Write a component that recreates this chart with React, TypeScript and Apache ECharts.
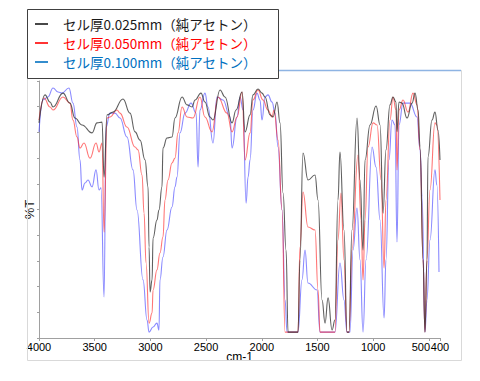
import React, { useEffect, useRef } from "react";
import * as echarts from "echarts";

// Legend / series names
const seriesNames = [
  "セル厚0.025mm（純アセトン）",
  "セル厚0.050mm（純アセトン）",
  "セル厚0.100mm（純アセトン）",
];
const legendColors = ["#1a1a1a", "#ff0000", "#0070c0"];
const lineColors = ["rgba(55,55,55,0.8)", "rgba(255,45,45,0.65)", "rgba(60,60,255,0.6)"];

// x-axis tick labels (wavenumber, cm-1)
const xTicks = [4000, 3500, 3000, 2500, 2000, 1500, 1000, 500, 400];

// [wavenumber (cm-1), %T]
const black025: [number, number][] = [
  [4000, 83.7], [3946, 94.6], [3901, 91.8], [3874, 89.9], [3785, 95.3], [3722, 91.4], [3677, 85.6],
  [3614, 82.9], [3524, 79.8], [3479, 83.7], [3434, 84.0], [3416, 62.6], [3389, 86.8], [3336, 87.9],
  [3246, 93.0], [3183, 87.5], [3138, 80.2], [3093, 77.0], [3048, 69.3], [3021, 58.8], [3012, 35.4],
  [3003, 17.9], [2985, 22.6], [2976, 38.9], [2941, 45.9], [2923, 49.8], [2896, 58.8], [2887, 73.9],
  [2851, 77.8], [2806, 78.2], [2779, 85.6], [2716, 93.8], [2671, 90.7], [2626, 89.9], [2599, 92.6],
  [2546, 95.3], [2510, 91.8], [2465, 86.0], [2438, 84.8], [2375, 96.5], [2330, 93.8], [2267, 83.7],
  [2231, 88.7], [2177, 95.7], [2150, 80.2], [2105, 86.8], [2079, 94.6], [2034, 96.9], [1998, 95.3],
  [1971, 93.8], [1926, 86.8], [1899, 86.0], [1863, 91.8], [1836, 83.7], [1809, 56.4], [1782, 34.2],
  [1764, 2.3], [1675, 2.3], [1657, 30.4], [1630, 72.0], [1585, 61.5], [1522, 63.4], [1495, 53.7],
  [1459, 14.8], [1432, 5.8], [1405, 15.6], [1369, 3.1], [1343, 7.0], [1316, 53.7], [1298, 72.4],
  [1262, 42.0], [1235, 2.3], [1217, 2.3], [1190, 42.0], [1145, 85.6], [1118, 61.5], [1091, 34.2],
  [1073, 69.3], [1028, 82.9], [974, 90.3], [938, 82.9], [911, 48.6], [885, 73.2], [849, 90.7],
  [822, 93.8], [795, 91.8], [786, 80.2], [768, 91.8], [741, 91.4], [696, 85.6], [651, 91.4],
  [624, 95.3], [597, 88.7], [579, 74.3], [552, 30.4], [535, 2.3], [517, 30.4], [508, 70.4],
  [472, 84.8], [445, 87.9], [418, 80.9], [400, 69.3],
];

const red050: [number, number][] = [
  [4000, 84.8], [3955, 93.4], [3901, 89.9], [3874, 88.7], [3785, 93.8], [3722, 91.4], [3695, 84.8],
  [3659, 78.2], [3632, 73.9], [3596, 75.9], [3542, 70.0], [3488, 75.9], [3461, 72.4], [3434, 75.9],
  [3416, 41.2], [3389, 85.6], [3363, 86.0], [3300, 88.7], [3273, 87.5], [3210, 82.1], [3138, 74.3],
  [3111, 73.2], [3075, 63.4], [3057, 48.6], [3039, 29.2], [3012, 5.8], [2985, 9.7], [2976, 18.7],
  [2941, 26.5], [2914, 33.1], [2887, 39.3], [2869, 53.7], [2842, 61.5], [2806, 68.1], [2779, 70.0],
  [2752, 79.8], [2716, 89.9], [2671, 86.0], [2617, 85.6], [2555, 93.8], [2510, 86.0], [2447, 80.2],
  [2393, 93.8], [2312, 87.5], [2267, 80.2], [2222, 86.0], [2177, 95.7], [2150, 69.3], [2105, 79.8],
  [2079, 92.6], [2034, 96.5], [1989, 92.6], [1944, 88.7], [1908, 86.0], [1890, 88.7], [1854, 77.0],
  [1818, 49.8], [1791, 2.3], [1675, 2.3], [1657, 35.4], [1630, 56.8], [1585, 43.2], [1522, 42.0],
  [1495, 18.7], [1477, 2.3], [1343, 2.3], [1316, 38.1], [1289, 56.4], [1262, 30.4], [1235, 2.3],
  [1217, 2.3], [1190, 34.2], [1136, 71.2], [1109, 45.9], [1091, 22.6], [1073, 45.9], [1046, 74.3],
  [1001, 83.7], [965, 82.9], [929, 61.5], [902, 27.2], [885, 53.7], [849, 84.8], [822, 93.8],
  [795, 88.7], [786, 65.4], [768, 88.7], [732, 92.6], [687, 87.9], [642, 95.3], [606, 90.7],
  [579, 73.2], [552, 30.4], [535, 2.3], [517, 30.4], [490, 57.6], [445, 83.7], [428, 82.9], [400, 53.7],
];

const blue100: [number, number][] = [
  [4000, 80.2], [3964, 92.6], [3919, 93.8], [3874, 97.3], [3829, 95.7], [3794, 95.3], [3731, 97.3],
  [3695, 91.4], [3659, 82.1], [3632, 69.3], [3614, 57.6], [3587, 60.3], [3560, 61.5], [3524, 58.8],
  [3488, 65.4], [3461, 57.6], [3443, 58.4], [3416, 16.0], [3398, 82.1], [3363, 87.5], [3318, 87.5],
  [3273, 85.6], [3210, 78.2], [3156, 65.4], [3120, 49.8], [3066, 22.6], [3030, 7.0], [3012, 2.3],
  [2976, 4.3], [2941, 5.8], [2923, 3.1], [2914, 22.6], [2887, 31.5], [2851, 42.0], [2806, 51.0],
  [2779, 58.8], [2761, 62.6], [2734, 79.8], [2689, 87.5], [2635, 91.4], [2590, 87.5], [2572, 66.5],
  [2555, 88.7], [2510, 95.3], [2483, 89.9], [2438, 75.9], [2402, 93.8], [2348, 92.6], [2285, 86.0],
  [2267, 73.9], [2222, 86.0], [2195, 93.8], [2168, 88.7], [2141, 52.5], [2123, 62.6], [2105, 69.3],
  [2079, 88.7], [2043, 95.3], [2016, 92.6], [1998, 84.8], [1971, 93.8], [1944, 94.6], [1908, 91.8],
  [1881, 87.5], [1854, 74.3], [1818, 49.8], [1791, 14.8], [1773, 2.3], [1675, 2.3], [1639, 22.6],
  [1612, 34.2], [1585, 21.4], [1504, 18.7], [1477, 2.3], [1343, 2.3], [1298, 29.2], [1262, 14.8],
  [1235, 2.3], [1208, 2.3], [1181, 34.2], [1145, 50.6], [1118, 30.4], [1091, 2.3], [1064, 30.4],
  [1010, 74.3], [974, 66.5], [938, 45.9], [902, 7.8], [885, 30.4], [858, 69.3], [831, 84.8],
  [804, 82.9], [786, 37.4], [768, 82.9], [732, 91.4], [669, 91.4], [606, 86.0], [579, 73.2],
  [561, 54.9], [535, 2.3], [517, 14.8], [490, 38.1], [445, 65.4], [428, 59.5], [409, 25.7],
];

const seriesData = [black025, red050, blue100];

export default function App() {
  const ref = useRef<HTMLDivElement>(null);

  useEffect(() => {
    if (!ref.current) return;
    const chart = echarts.init(ref.current, null, { renderer: "svg" });

    const legendGraphics: any[] = [];
    seriesNames.forEach((name, i) => {
      const y = 24 + i * 19;
      legendGraphics.push({
        type: "line",
        shape: { x1: 35, y1: y, x2: 48, y2: y },
        style: { stroke: legendColors[i], lineWidth: 1.6 },
        z: 101,
      });
      legendGraphics.push({
        type: "text",
        x: 63,
        y,
        style: {
          text: name,
          fill: legendColors[i],
          fontSize: 13.5,
          fontFamily: '"Noto Sans CJK JP", sans-serif',
          verticalAlign: "middle",
        },
        z: 101,
      });
    });

    chart.setOption({
      animation: false,
      backgroundColor: "#ffffff",
      grid: { left: 39, right: 40, top: 81, bottom: 43 },
      xAxis: {
        type: "value",
        inverse: true,
        min: 400,
        max: 4000,
        name: "cm-1",
        nameLocation: "middle",
        nameGap: 13,
        nameMoveOverlap: false,
        nameTextStyle: { color: "#000", fontSize: 12, fontFamily: "Liberation Sans, Arial, sans-serif" },
        axisLine: { show: true, lineStyle: { color: "#a0a0a0", width: 1 } },
        axisTick: { show: true, customValues: xTicks, length: 3, lineStyle: { color: "#a0a0a0" } },
        axisLabel: {
          customValues: xTicks,
          color: "#000",
          fontSize: 11,
          fontFamily: "Liberation Sans, Arial, sans-serif",
          margin: 3,
          formatter: (v: number) => (v === 500 ? "{s|500}" : String(v)),
          rich: { s: { padding: [0, 16, 0, 0], fontSize: 11, color: "#000", fontFamily: "Liberation Sans, Arial, sans-serif" } },
        },
        splitLine: { show: false },
      },
      yAxis: {
        type: "value",
        min: 0,
        max: 100,
        interval: 10,
        name: "%T",
        nameLocation: "middle",
        nameGap: 3,
        nameMoveOverlap: false,
        nameTextStyle: { color: "#222", fontSize: 13, fontFamily: "Liberation Sans, Arial, sans-serif" },
        axisLine: { show: true, lineStyle: { color: "#a0a0a0", width: 1 } },
        axisTick: { show: true, length: 2, lineStyle: { color: "#a0a0a0" } },
        axisLabel: { show: false },
        splitLine: { show: false },
      },
      series: [2, 1, 0].map((i) => ({
        name: seriesNames[i],
        type: "line",
        data: seriesData[i],
        showSymbol: false,
        smooth: 0.45,
        smoothMonotone: "x",
        lineStyle: { color: lineColors[i], width: 1.1 },
        itemStyle: { color: lineColors[i] },
        z: 3 - i,
      })),
      graphic: [
        {
          type: "rect",
          shape: { x: 27.5, y: 70.5, width: 434, height: 290 },
          style: { fill: "none", stroke: "#d9d9d9", lineWidth: 1 },
          silent: true,
          z: 99,
        },
        {
          type: "line",
          shape: { x1: 278, y1: 70.5, x2: 461, y2: 70.5 },
          style: { stroke: "#8eb4e3", lineWidth: 1.5 },
          z: 99,
        },
        {
          type: "rect",
          shape: { x: 27.5, y: 9.5, width: 251, height: 69 },
          style: { fill: "#ffffff", stroke: "#404040", lineWidth: 1 },
          z: 100,
        },
        ...legendGraphics,
      ],
    });

    return () => chart.dispose();
  }, []);

  return (
    <div
      ref={ref}
      style={{ position: "fixed", left: 0, top: 0, width: 480, height: 381, background: "#fff" }}
    />
  );
}
